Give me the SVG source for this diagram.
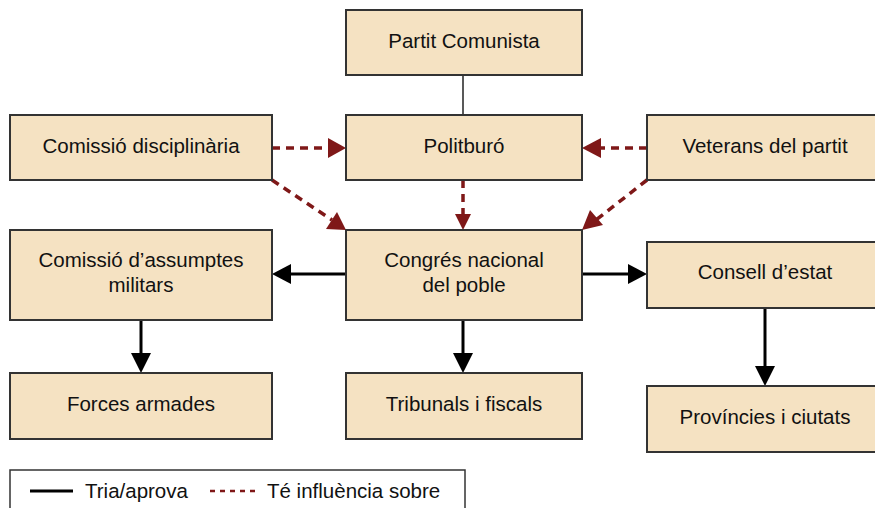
<svg xmlns="http://www.w3.org/2000/svg" width="875" height="508" viewBox="0 0 875 508">
<defs>
<style>
.box{fill:#f5e2c2;stroke:#333;stroke-width:2}
.t{font-family:"Liberation Sans",Arial,sans-serif;font-size:20.5px;fill:#111;text-anchor:middle}
.l{font-family:"Liberation Sans",Arial,sans-serif;font-size:20.5px;fill:#111}
.s{stroke:#000;stroke-width:3;fill:none}
.d{stroke:#7f1818;stroke-width:3.5;stroke-dasharray:8,6;fill:none}
</style>
</defs>
<rect x="0" y="0" width="875" height="508" fill="#fff"/>
<g id="connectors">
<line x1="463" y1="75" x2="463" y2="115" stroke="#222" stroke-width="1.5"/>
<line class="d" x1="272" y1="148" x2="328" y2="148"/>
<polygon points="346,148 328,138 328,158" fill="#7f1818"/>
<line class="d" x1="272" y1="180" x2="332" y2="220"/>
<polygon points="346,230 326,229 337,212" fill="#7f1818"/>
<line class="d" x1="463" y1="180" x2="463" y2="214"/>
<polygon points="463,230 455,214 471,214" fill="#7f1818"/>
<line class="d" x1="647" y1="148" x2="601" y2="148"/>
<polygon points="582,148 601,138 601,158" fill="#7f1818"/>
<line class="d" x1="647" y1="180" x2="596" y2="220"/>
<polygon points="582,230 590,210 603,225" fill="#7f1818"/>
<line class="s" x1="346" y1="274" x2="290" y2="274"/>
<polygon points="272,274 291,264 291,284" fill="#000"/>
<line class="s" x1="582" y1="274" x2="630" y2="274"/>
<polygon points="647,274 628,264 628,284" fill="#000"/>
<line class="s" x1="141" y1="320" x2="141" y2="356"/>
<polygon points="141,373 131,353 151,353" fill="#000"/>
<line class="s" x1="463" y1="320" x2="463" y2="356"/>
<polygon points="463,373 453,353 473,353" fill="#000"/>
<line class="s" x1="765" y1="308" x2="765" y2="369"/>
<polygon points="765,386 755,366 775,366" fill="#000"/>
</g>
<g id="partit"><rect class="box" x="346" y="10" width="236" height="65"/><text class="t" x="464" y="48">Partit Comunista</text></g>
<g id="politburo"><rect class="box" x="346" y="115" width="236" height="65"/><text class="t" x="464" y="153">Politburó</text></g>
<g id="disciplinaria"><rect class="box" x="10" y="115" width="262" height="65"/><text class="t" x="141" y="153">Comissió disciplinària</text></g>
<g id="veterans"><rect class="box" x="647" y="115" width="240" height="65"/><text class="t" x="765" y="153">Veterans del partit</text></g>
<g id="militars"><rect class="box" x="10" y="230" width="262" height="90"/><text class="t" x="141" y="267">Comissió d’assumptes</text><text class="t" x="141" y="292">militars</text></g>
<g id="congres"><rect class="box" x="346" y="230" width="236" height="90"/><text class="t" x="464" y="267">Congrés nacional</text><text class="t" x="464" y="292">del poble</text></g>
<g id="consell"><rect class="box" x="647" y="242" width="240" height="66"/><text class="t" x="765" y="279">Consell d’estat</text></g>
<g id="forces"><rect class="box" x="10" y="373" width="262" height="66"/><text class="t" x="141" y="411">Forces armades</text></g>
<g id="tribunals"><rect class="box" x="346" y="373" width="236" height="66"/><text class="t" x="464" y="411">Tribunals i fiscals</text></g>
<g id="provincies"><rect class="box" x="647" y="386" width="240" height="66"/><text class="t" x="765" y="424">Províncies i ciutats</text></g>
<g id="legend">
<rect x="10" y="470" width="455" height="45" fill="#fff" stroke="#333" stroke-width="1.5"/>
<line x1="30" y1="491" x2="73" y2="491" stroke="#000" stroke-width="3"/>
<text class="l" x="85" y="498">Tria/aprova</text>
<line x1="210" y1="491" x2="255" y2="491" stroke="#7f1818" stroke-width="2.5" stroke-dasharray="5,5"/>
<text class="l" x="267" y="498">Té influència sobre</text>
</g>
</svg>
